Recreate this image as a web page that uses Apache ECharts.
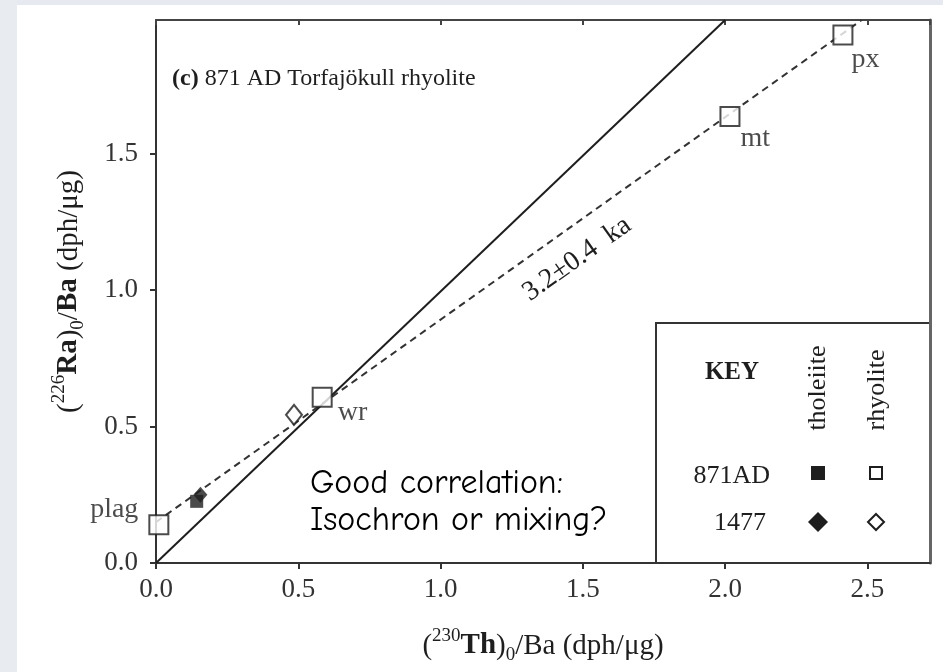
<!DOCTYPE html>
<html><head><meta charset="utf-8">
<script src="https://cdn.jsdelivr.net/npm/echarts@6/dist/echarts.min.js"></script>
<style>html,body{margin:0;padding:0;background:#fff}#c{width:943px;height:672px}</style>
</head><body><div id="c"></div>
<script>
// ---- data ----
var xTicks = [0.0, 0.5, 1.0, 1.5, 2.0, 2.5];
var yTicks = [0.0, 0.5, 1.0, 1.5];
// rhyolite 871AD (open squares)
var rhy871Names = ['plag', 'wr', 'mt', 'px'];
var rhy871X = [0.01, 0.584, 2.017, 2.414];
var rhy871Y = [0.14, 0.607, 1.636, 1.935];
// rhyolite 1477 (open diamond)
var rhy1477X = [0.485];
var rhy1477Y = [0.543];
// tholeiite 871AD (filled square)
var tho871X = [0.143];
var tho871Y = [0.226];
// tholeiite 1477 (filled diamond)
var tho1477X = [0.156];
var tho1477Y = [0.25];
// isochron (dashed) and equiline (solid)
var isoX = [0.0, 2.48];
var isoY = [0.15, 1.99];
var equiX = [0.0, 2.0];
var equiY = [0.0, 1.99];

var SERIF = "'Liberation Serif','Times New Roman',serif";
var INK = '#1e1e1e';
function pairs(xs, ys) { return xs.map(function (x, i) { return [x, ys[i]]; }); }

var chart = echarts.init(document.getElementById('c'), null, {renderer: 'canvas'});

var labelOffsets = {plag: {position: 'left', distance: 10, offset: [0, -15]},
  wr: {position: 'right', distance: 5, offset: [0, 15]},
  mt: {position: 'right', distance: 0, offset: [0, 22]},
  px: {position: 'right', distance: -2, offset: [0, 25]}};

var rhy871Data = rhy871X.map(function (x, i) {
  var n = rhy871Names[i];
  var lo = labelOffsets[n];
  return {value: [x, rhy871Y[i]], label: {show: true, formatter: n, position: lo.position, distance: lo.distance, offset: lo.offset,
    fontFamily: SERIF, fontSize: 28, color: INK}};
});

var nameRich = {
  p: {fontFamily: SERIF, fontSize: 29, color: INK, lineHeight: 38},
  b: {fontFamily: SERIF, fontSize: 29, fontWeight: 'bold', color: INK, lineHeight: 38},
  sup: {fontFamily: SERIF, fontSize: 19, color: INK, verticalAlign: 'top', lineHeight: 38},
  sub: {fontFamily: SERIF, fontSize: 19, color: INK, verticalAlign: 'bottom', lineHeight: 38}
};

var option = {
  animation: false,
  backgroundColor: '#ffffff',
  grid: {left: 156, right: 13, top: 20, bottom: 109, containLabel: false},
  xAxis: [{
    type: 'value', min: 0, max: 2.72, interval: 0.5, position: 'bottom',
    axisLine: {show: true, onZero: false, lineStyle: {color: '#333', width: 2}},
    axisTick: {show: true, inside: false, length: 6, lineStyle: {color: '#333', width: 2}},
    axisLabel: {margin: 13, fontFamily: SERIF, fontSize: 27, color: '#333', showMaxLabel: false,
      formatter: function (v) { return xTicks.indexOf(v) >= 0 ? v.toFixed(1) : ''; }},
    splitLine: {show: false},
    name: '{p|(}{sup|230}{b|Th}{p|)}{sub|0}{p|/Ba (dph/μg)}',
    nameLocation: 'middle', nameGap: 64,
    nameTextStyle: {rich: nameRich}
  }, {
    type: 'value', min: 0, max: 2.72, interval: 0.5, position: 'top',
    axisLine: {show: true, onZero: false, lineStyle: {color: '#444', width: 2}},
    axisTick: {show: true, inside: true, length: 5, lineStyle: {color: '#444', width: 2}},
    axisLabel: {show: false}, splitLine: {show: false}
  }],
  yAxis: [{
    type: 'value', min: 0, max: 1.99, interval: 0.5, position: 'left',
    axisLine: {show: true, onZero: false, lineStyle: {color: '#333', width: 2}},
    axisTick: {show: true, inside: false, length: 6, lineStyle: {color: '#333', width: 2}},
    axisLabel: {margin: 18, fontFamily: SERIF, fontSize: 27, color: '#333', showMaxLabel: false,
      formatter: function (v) { return yTicks.indexOf(v) >= 0 ? v.toFixed(1) : ''; }},
    splitLine: {show: false},
    name: '{p|(}{sup|226}{b|Ra}{p|)}{sub|0}{p|/}{b|Ba}{p| (dph/μg)}',
    nameLocation: 'middle', nameGap: 68, nameRotate: 90,
    nameTextStyle: {rich: nameRich}
  }, {
    type: 'value', min: 0, max: 1.99, interval: 0.5, position: 'right',
    axisLine: {show: true, onZero: false, lineStyle: {color: '#666', width: 3}},
    axisTick: {show: false}, axisLabel: {show: false}, splitLine: {show: false}
  }],
  series: [
    {type: 'line', data: pairs(equiX, equiY), symbol: 'none', clip: true,
      lineStyle: {color: INK, width: 2}, z: 2, silent: true},
    {type: 'line', data: pairs(isoX, isoY), symbol: 'none', clip: true,
      lineStyle: {color: '#333', width: 2, type: [7, 5]}, z: 2, silent: true},
    {type: 'scatter', data: pairs(tho871X, tho871Y), symbol: 'rect', symbolSize: 13,
      itemStyle: {color: INK}, z: 3},
    {type: 'scatter', data: pairs(tho1477X, tho1477Y), symbol: 'diamond', symbolSize: [14, 16],
      itemStyle: {color: INK}, z: 4},
    {type: 'scatter', data: pairs(rhy1477X, rhy1477Y), symbol: 'diamond', symbolSize: [16, 20],
      itemStyle: {color: '#fff', borderColor: INK, borderWidth: 2}, z: 4},
    {type: 'scatter', data: rhy871Data, symbol: 'rect', symbolSize: 19,
      itemStyle: {color: '#fff', borderColor: INK, borderWidth: 2}, z: 5}
  ],
  graphic: [
    {type: 'rect', z: -100, silent: true, shape: {x: 0, y: 0, width: 943, height: 5}, style: {fill: '#e6e9ef'}},
    {type: 'rect', z: -100, silent: true, shape: {x: 0, y: 0, width: 17, height: 672}, style: {fill: '#e8ebf0'}},
    {type: 'text', left: 172, top: 67, style: {
      text: '{b|(c)} 871 AD Torfajökull rhyolite', fontFamily: SERIF, fontSize: 24, fill: INK,
      rich: {b: {fontFamily: SERIF, fontSize: 24, fontWeight: 'bold', fill: INK}}}},
    {type: 'text', x: 577, y: 259, rotation: 35.4 * Math.PI / 180, style: {
      text: '3.2±0.4  ka', fontFamily: SERIF, fontSize: 28, fill: INK, align: 'center', verticalAlign: 'middle'}},
    {type: 'text', x: 310, y: 502, style: {
      text: 'Good correlation:\nIsochron or mixing?', fontFamily: "'Comic Sans MS','Comic Neue','DejaVu Sans',sans-serif",
      fontSize: 34, lineHeight: 37, fill: '#000', align: 'left', verticalAlign: 'middle'}},
    // KEY box
    {type: 'rect', shape: {x: 656, y: 323, width: 274, height: 240}, style: {fill: 'none', stroke: '#333', lineWidth: 2}},
    {type: 'text', x: 732, y: 373, style: {text: 'KEY', fontFamily: SERIF, fontSize: 25, fontWeight: 'bold', fill: INK, align: 'center', verticalAlign: 'middle'}},
    {type: 'text', x: 818, y: 388, rotation: Math.PI / 2, style: {text: 'tholeiite', fontFamily: SERIF, fontSize: 26, fill: INK, align: 'center', verticalAlign: 'middle'}},
    {type: 'text', x: 877, y: 390, rotation: Math.PI / 2, style: {text: 'rhyolite', fontFamily: SERIF, fontSize: 26, fill: INK, align: 'center', verticalAlign: 'middle'}},
    {type: 'text', x: 770, y: 476, style: {text: '871AD', fontFamily: SERIF, fontSize: 26, fill: INK, align: 'right', verticalAlign: 'middle'}},
    {type: 'text', x: 766, y: 523, style: {text: '1477', fontFamily: SERIF, fontSize: 26, fill: INK, align: 'right', verticalAlign: 'middle'}},
    {type: 'rect', shape: {x: 811, y: 466, width: 14, height: 14}, style: {fill: INK}},
    {type: 'rect', shape: {x: 870, y: 467, width: 12, height: 12}, style: {fill: '#fff', stroke: INK, lineWidth: 2}},
    {type: 'polygon', shape: {points: [[818, 512], [828, 522], [818, 532], [808, 522]]}, style: {fill: INK}},
    {type: 'polygon', shape: {points: [[876, 514], [884, 522], [876, 530], [868, 522]]}, style: {fill: '#fff', stroke: INK, lineWidth: 2}}
  ]
};
chart.setOption(option);
</script>
</body></html>
